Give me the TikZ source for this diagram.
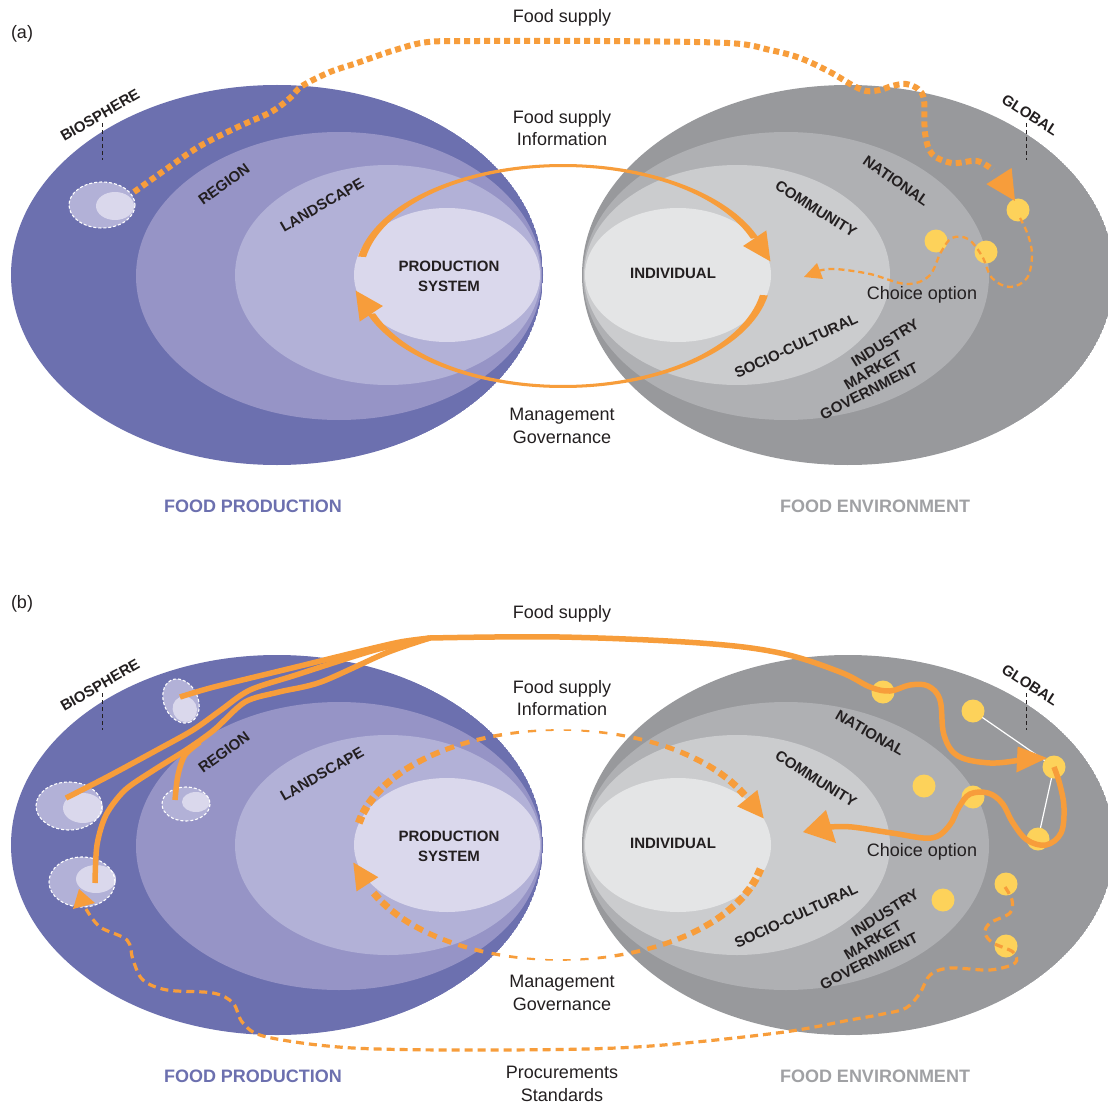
\documentclass[tikz,border=0pt]{standalone}
\usepackage{fontspec}
\setmainfont{Liberation Sans}
\definecolor{bio}{RGB}{108,112,175}
\definecolor{reg}{RGB}{150,148,198}
\definecolor{land}{RGB}{178,177,215}
\definecolor{prod}{RGB}{218,216,236}
\definecolor{glob}{RGB}{152,153,156}
\definecolor{natl}{RGB}{175,176,179}
\definecolor{comm}{RGB}{203,204,206}
\definecolor{indiv}{RGB}{228,229,230}
\definecolor{org}{RGB}{247,157,59}
\definecolor{yel}{RGB}{253,210,90}
\definecolor{txt}{RGB}{35,31,32}
\definecolor{gtitle}{RGB}{160,161,164}
\newcommand\myblobs{%
  \begin{scope}
    \clip (277,275) ellipse [x radius=266, y radius=190];
    \fill[bio] (277,275) ellipse [x radius=266, y radius=190];
    \fill[reg] (339,276) ellipse [x radius=203, y radius=144];
    \fill[land] (388,275) ellipse [x radius=153, y radius=110];
    \fill[prod] (447,275) ellipse [x radius=93, y radius=67];
  \end{scope}
  \begin{scope}
    \clip (848,275) ellipse [x radius=266, y radius=190];
    \fill[glob] (848,275) ellipse [x radius=266, y radius=190];
    \fill[natl] (786,276) ellipse [x radius=203, y radius=144];
    \fill[comm] (737,275) ellipse [x radius=153, y radius=110];
    \fill[indiv] (678,275) ellipse [x radius=93, y radius=67];
  \end{scope}
  \draw[tick] (102,123) -- (102,160);
  \draw[tick] (1026,123) -- (1026,160);
}
\begin{document}
\begin{tikzpicture}[x=1pt,y=-1pt,
  lab/.style={font=\fontsize{18}{22.5}\selectfont, text=txt, align=center, inner sep=0pt},
  caps/.style={font=\bfseries\fontsize{15}{18}\selectfont, text=txt, inner sep=0pt},
  core/.style={font=\bfseries\fontsize{15}{20}\selectfont, text=txt, align=center, inner sep=0pt},
  ttl/.style={font=\bfseries\fontsize{18}{22}\selectfont, inner sep=0pt},
  tick/.style={draw=txt, line width=0.9pt, dash pattern=on 4pt off 3pt},
  dotline/.style={draw=org, line width=6pt, dash pattern=on 6pt off 4pt},
  thindash/.style={draw=org, line width=2.3pt, dash pattern=on 6pt off 4pt},
  procdash/.style={draw=org, line width=3.2pt, dash pattern=on 8pt off 5pt},
  sol/.style={draw=org, line width=5.5pt, line join=round},
  farmedge/.style={draw=white, line width=1.1pt, dash pattern=on 3pt off 2pt},
  dot/.style={circle, fill=yel, minimum size=23pt, inner sep=0pt},
  whiteline/.style={draw=white, line width=1.2pt}]
\useasboundingbox (0,0) rectangle (1108,1102);
\clip (0,0) rectangle (1108,1102);
\fill[white] (0,0) rectangle (1108,1102);

% ================= panel (a) =================
\myblobs
\fill[land] (102,205) ellipse [x radius=33, y radius=23];
\fill[prod] (115,206) ellipse [x radius=19, y radius=14];
\draw[farmedge] (102,205) ellipse [x radius=33, y radius=23];

\node[lab] (pa) at (22,34) {(a)};
\node[lab] (fsa) at (562,18) {Food supply};
\node[lab] (fia) at (562,128) {Food supply\\Information};
\node[lab] (mga) at (562,426) {Management\\Governance};
\node[ttl, text=bio] (fpa) at (253,506) {FOOD PRODUCTION};
\node[ttl, text=gtitle] (fea) at (875,506) {FOOD ENVIRONMENT};
\node[core] (psa) at (449,276) {PRODUCTION\\SYSTEM};
\node[core] (ina) at (673,273) {INDIVIDUAL};
\node[lab] (coa) at (922,295) {Choice option};
\node[caps, rotate=30] (bia) at (100,115) {BIOSPHERE};
\node[caps, rotate=36] (rea) at (224,184) {REGION};
\node[caps, rotate=30] (laa) at (322,205) {LANDSCAPE};
\node[caps, rotate=-33] (gla) at (1030,115) {GLOBAL};
\node[caps, rotate=-35] (naa) at (896,181) {NATIONAL};
\node[caps, rotate=-32] (cma) at (816,209) {COMMUNITY};
\node[caps, rotate=25] (sca) at (796,346) {SOCIO-CULTURAL};
\node[caps, rotate=32] (iua) at (885,343) {INDUSTRY};
\node[caps, rotate=30] (maa) at (873,370) {MARKET};
\node[caps, rotate=27] (goa) at (869,391) {GOVERNMENT};

\node[dot] (a1) at (1018,210) {};
\node[dot] (a2) at (936,241) {};
\node[dot] (a3) at (986,252) {};

% food supply dotted
\draw[dotline] plot[smooth, tension=0.55] coordinates {(134,192) (165,170) (200,146) (240,126) (271,112) (290,98) (302,86) (330,72) (357,63) (395,50) (428,42) (480,41) (600,41) (728,43) (770,50) (800,58) (830,72) (852,85) (866,91) (880,90) (892,86) (906,84) (918,89) (924,100) (925,133) (932,154) (952,163) (977,161) (993,170)};
\fill[org] (1011.6,167.9) -- (1015,201) -- (986.4,184.1) -- cycle;

% choice option dashed
\draw[thindash] plot[smooth, tension=0.6] coordinates {(1020,218) (1028,235) (1032,255) (1027,278) (1010,287) (992,278) (982,256) (968,239) (952,238) (941,252) (929,276) (906,284) (870,274) (835,269) (818,271)};
\fill[org] (823,279) -- (804,277) -- (817,263) -- cycle;

% loop (a)
\fill[org] plot[domain=190:340, samples=80] ({563+208*cos(\x)},{276+112*sin(\x)}) -- plot[domain=340:190, samples=80] ({563+200*cos(\x)},{276+109*sin(\x)}) -- cycle;
\fill[org] (766.3,230.4) -- (770.4,261.4) -- (743.1,246) -- cycle;
\fill[org] plot[domain=10:160, samples=80] ({563+208*cos(\x)},{276+112*sin(\x)}) -- plot[domain=160:10, samples=80] ({563+200*cos(\x)},{276+109*sin(\x)}) -- cycle;
\fill[org] (382.9,306) -- (355.6,290.6) -- (359.7,321.6) -- cycle;

% ================= panel (b) =================
\begin{scope}[shift={(0,570)}]
\myblobs
\end{scope}
% farms
\begin{scope}[shift={(181,701)}, rotate=-65]
  \fill[land] (0,0) ellipse [x radius=23, y radius=17];
  \fill[prod] (9,0) ellipse [x radius=13, y radius=12];
  \draw[farmedge] (0,0) ellipse [x radius=23, y radius=17];
\end{scope}
\fill[land] (69,806) ellipse [x radius=33, y radius=24];
\fill[prod] (83,808) ellipse [x radius=20, y radius=15];
\draw[farmedge] (69,806) ellipse [x radius=33, y radius=24];
\fill[land] (186,804) ellipse [x radius=24, y radius=17];
\fill[prod] (196,802) ellipse [x radius=14, y radius=10];
\draw[farmedge] (186,804) ellipse [x radius=24, y radius=17];
\fill[land] (82,882) ellipse [x radius=33, y radius=25];
\fill[prod] (96,879) ellipse [x radius=20, y radius=14];
\draw[farmedge] (82,882) ellipse [x radius=33, y radius=25];

\node[lab] (pb) at (22,604) {(b)};
\node[lab] (fsb) at (562,614) {Food supply};
\node[lab] (fib) at (562,698) {Food supply\\Information};
\node[lab] (mgb) at (562,993) {Management\\Governance};
\node[lab] (prb) at (562,1084) {Procurements\\Standards};
\node[ttl, text=bio] (fpb) at (253,1076) {FOOD PRODUCTION};
\node[ttl, text=gtitle] (feb) at (875,1076) {FOOD ENVIRONMENT};
\node[core] (psb) at (449,846) {PRODUCTION\\SYSTEM};
\node[core] (inb) at (673,843) {INDIVIDUAL};
\node[lab] (cob) at (922,852) {Choice option};
\node[caps, rotate=30] (bib) at (100,685) {BIOSPHERE};
\node[caps, rotate=36] (reb) at (224,752) {REGION};
\node[caps, rotate=30] (lab) at (322,774) {LANDSCAPE};
\node[caps, rotate=-33] (glb) at (1030,685) {GLOBAL};
\node[caps, rotate=-30] (nab) at (870,733) {NATIONAL};
\node[caps, rotate=-32] (cmb) at (816,779) {COMMUNITY};
\node[caps, rotate=25] (scb) at (796,916) {SOCIO-CULTURAL};
\node[caps, rotate=32] (iub) at (885,913) {INDUSTRY};
\node[caps, rotate=30] (mab) at (873,940) {MARKET};
\node[caps, rotate=27] (gob) at (869,961) {GOVERNMENT};

% white links and dots
\draw[whiteline] (973,711) -- (1054,767) -- (1038,839);
\node[dot] (b1) at (883,692) {};
\node[dot] (b2) at (973,711) {};
\node[dot] (b3) at (1054,767) {};
\node[dot] (b4) at (924,786) {};
\node[dot] (b5) at (973,797) {};
\node[dot] (b6) at (1038,839) {};
\node[dot] (b7) at (1006,884) {};
\node[dot] (b8) at (943,900) {};
\node[dot] (b9) at (1006,946) {};

% farm lines and trunk
\draw[sol] plot[smooth] coordinates {(180,697) (214,687) (296,667) (357,652) (400,642) (430,638)};
\draw[sol] plot[smooth] coordinates {(66,798) (107,777) (157,750) (193,730) (221,710) (250,690) (296,675) (375,650) (430,638)};
\draw[sol] plot[smooth] coordinates {(95,883) (97,845) (106,815) (125,790) (154,770) (186,750) (214,730) (245,702) (279,692) (321,682) (386,653) (430,638)};
\draw[sol] plot[smooth] coordinates {(175,800) (178,775) (185,755) (200,742)};
\draw[sol] plot[smooth, tension=0.6] coordinates {(430,638) (560,637) (700,643) (780,653) (840,672) (870,687) (890,691) (910,685) (928,686) (940,700) (944,735) (958,756) (990,763) (1020,760)};
\fill[org] (1017.6,746.5) -- (1047,758) -- (1016.4,772.5) -- cycle;
\draw[sol] plot[smooth, tension=0.6] coordinates {(1054,767) (1060,785) (1064,808) (1061,833) (1046,845) (1027,840) (1013,823) (1002,803) (988,793) (970,794) (959,807) (949,826) (931,838) (892,833) (852,827) (830,827)};
\fill[org] (826,810) -- (803,832) -- (836,843) -- cycle;

% procurement dashed
\draw[procdash] plot[smooth, tension=0.55] coordinates {(1005,887) (1012,900) (1010,913) (990,923) (985,933) (993,943) (1013,952) (1015,963) (990,970) (950,968) (930,975) (920,993) (906,1008) (883,1014) (850,1020) (777,1033) (636,1047) (495,1050) (353,1048) (267,1037) (243,1023) (233,1003) (213,993) (167,990) (143,980) (133,960) (127,940) (100,927) (86,909)};
\fill[org] (73,909) -- (79,889) -- (95,903) -- cycle;

% loop (b) dashed
\foreach \t in {191,196,...,331} {
  \pgfmathsetmacro\w{1.3+6.7*abs(cos(\t))}
  \pgfmathsetmacro\e{\t+5*(0.42+0.28*abs(cos(\t)))}
  \draw[org, line width=\w pt] ({560+205*cos(\t)},{845+115*sin(\t)}) -- ({560+205*cos(\e)},{845+115*sin(\e)});
}
\fill[org] (757.4,790) -- (763.7,818.4) -- (737.2,806.4) -- cycle;
\foreach \t in {12,17,...,152} {
  \pgfmathsetmacro\w{1.3+6.7*abs(cos(\t))}
  \pgfmathsetmacro\e{\t+5*(0.42+0.28*abs(cos(\t)))}
  \draw[org, line width=\w pt] ({560+205*cos(\t)},{845+115*sin(\t)}) -- ({560+205*cos(\e)},{845+115*sin(\e)});
}
\fill[org] (378.3,877.2) -- (353.3,862.5) -- (356.5,891.4) -- cycle;
\end{tikzpicture}
\end{document}
